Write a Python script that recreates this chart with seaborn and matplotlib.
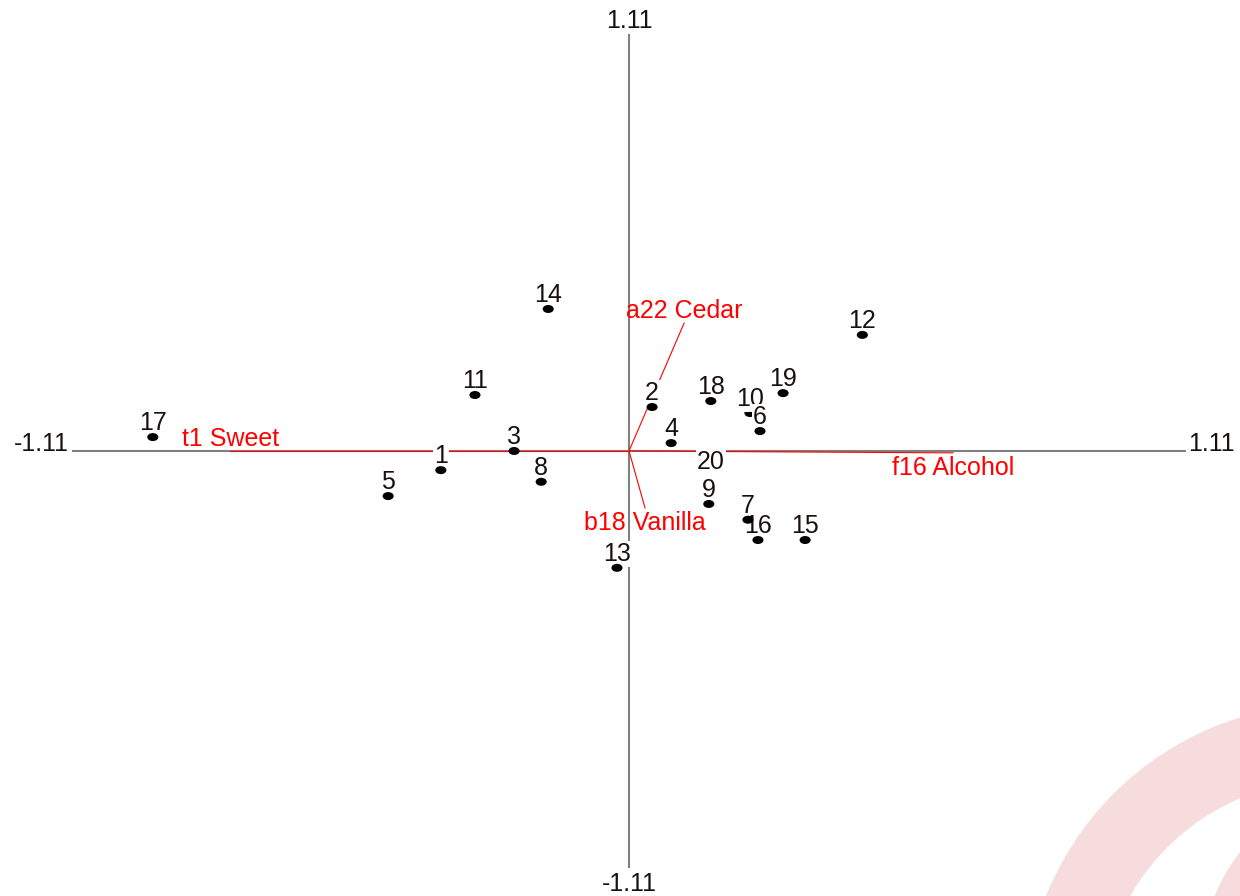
import numpy as np
import pandas as pd
import matplotlib
matplotlib.use("Agg")
import matplotlib.pyplot as plt
import seaborn as sns
from matplotlib.path import Path
from matplotlib.transforms import Affine2D
from matplotlib.patches import Wedge

# ---------------- data ----------------
point_labels = [str(i) for i in range(1, 21)]
point_x = [-0.375, 0.046, -0.229, 0.084, -0.480, 0.261, 0.237, -0.175, 0.159, 0.241,
           -0.307, 0.465, -0.024, -0.161, 0.351, 0.257, -0.949, 0.163, 0.307, 0.163]
point_y = [-0.051, 0.117, 0.000, 0.021, -0.120, 0.053, -0.183, -0.082, -0.141, 0.101,
           0.149, 0.309, -0.311, 0.378, -0.237, -0.237, 0.037, 0.133, 0.154, -0.047]

vector_labels = ["t1 Sweet", "f16 Alcohol", "a22 Cedar", "b18 Vanilla"]
vector_x = [-0.795, 0.646, 0.110, 0.032]
vector_y = [0.000, -0.005, 0.341, -0.152]

axis_extent = 1.11
axis_tick_labels = ["-1.11", "1.11"]

# ---------------- style ----------------
sns.set_theme(style="white")
plt.rcParams["font.family"] = ["Liberation Sans", "DejaVu Sans"]
FS = 18
TXT = "#1a1010"

W, H, DPI = 1240, 896, 100
fig = plt.figure(figsize=(W / DPI, H / DPI), dpi=DPI)

# background watermark (decorative swirl)
bg = fig.add_axes([0, 0, 1, 1], zorder=0)
bg.set_xlim(0, W)
bg.set_ylim(H, 0)
bg.axis("off")
wm = "#f6dcdd"
bg.add_patch(Wedge((1330, 1010), 306, 0, 360, width=76, facecolor=wm, edgecolor="none"))
bg.add_patch(Wedge((1380, 962), 178, 0, 360, width=60, facecolor=wm, edgecolor="none"))

ax = fig.add_axes([0, 0, 1, 1], zorder=1)
ax.patch.set_alpha(0)
ax.set_xlim(-1.2535, 1.2176)
ax.set_ylim(-1.1845, 1.2004)
ax.axis("off")

# axes lines
ax.plot([-axis_extent, axis_extent], [0, 0], color="#808080", lw=1.5, zorder=1, solid_capstyle="butt")
ax.plot([0, 0], [-axis_extent, axis_extent], color="#808080", lw=1.5, zorder=1, solid_capstyle="butt")

ax.annotate(axis_tick_labels[0], (-axis_extent, 0), xytext=(-3, 0), textcoords="offset pixels",
            ha="right", va="baseline", fontsize=FS, color=TXT)
ax.annotate(axis_tick_labels[1], (axis_extent, 0), xytext=(2, 0), textcoords="offset pixels",
            ha="left", va="baseline", fontsize=FS, color=TXT)
ax.annotate(axis_tick_labels[1], (0, axis_extent), xytext=(0, 1), textcoords="offset pixels",
            ha="center", va="bottom", fontsize=FS, color=TXT)
ax.annotate(axis_tick_labels[0], (0, -axis_extent), xytext=(0, -4), textcoords="offset pixels",
            ha="center", va="top", fontsize=FS, color=TXT)

# vectors
for lab, vx, vy in zip(vector_labels, vector_x, vector_y):
    ax.plot([0, vx], [0, vy], color="red", lw=0.8, zorder=2)
    if vy >= 0:
        ax.annotate(lab, (vx, vy), xytext=(0, 5), textcoords="offset pixels",
                    ha="center", va="baseline", fontsize=FS, color="red", zorder=2)
    else:
        ax.annotate(lab, (vx, vy), xytext=(0, -3), textcoords="offset pixels",
                    ha="center", va="top", fontsize=FS, color="red", zorder=2)

# points
df = pd.DataFrame({"x": point_x, "y": point_y, "label": point_labels})
ellipse = Path.unit_circle().transformed(Affine2D().scale(1.0, 0.72))
covered = df["label"].isin(["10", "20"])   # dots partly hidden by label boxes in the reference
sns.scatterplot(data=df[~covered], x="x", y="y", ax=ax, marker=ellipse, s=64, color="black",
                edgecolor="none", linewidth=0, zorder=5, legend=False)
sns.scatterplot(data=df[covered], x="x", y="y", ax=ax, marker=ellipse, s=64, color="black",
                edgecolor="none", linewidth=0, zorder=3, legend=False)

label_offsets = {"20": 0}
for _, r in df.iterrows():
    off = label_offsets.get(r["label"], 7)
    z = 4.5 if r["label"] == "6" else 4
    ax.annotate(r["label"], (r["x"], r["y"]), xytext=(0, off), textcoords="offset pixels",
                ha="center", va="baseline", fontsize=FS, color=TXT, zorder=z,
                bbox=dict(boxstyle="square,pad=0.05", fc="white", ec="none"))

fig.savefig("out.png", dpi=DPI)
